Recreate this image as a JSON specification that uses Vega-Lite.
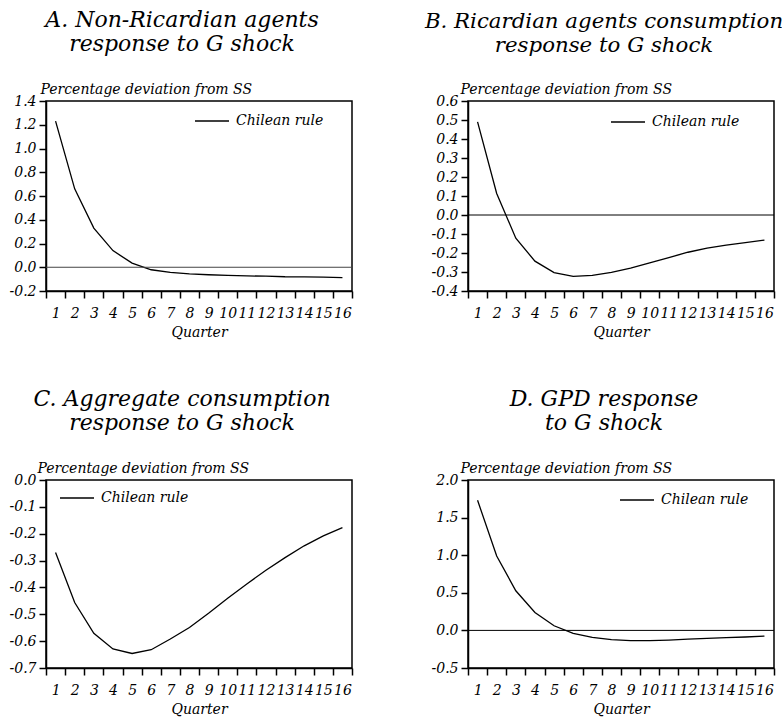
{
  "$schema": "https://vega.github.io/schema/vega-lite/v6.json",
  "background": "white",
  "padding": {"left": 8, "top": 8, "right": 0, "bottom": 0},
  "columns": 2,
  "spacing": {"row": 47, "column": 61},
  "resolve": {"scale": {"x": "independent", "y": "independent", "color": "independent"}, "legend": {"color": "independent"}, "axis": {"x": "independent", "y": "independent"}},
  "config": {
    "font": "DejaVu Serif",
    "view": {"stroke": "black", "strokeWidth": 1.5},
    "axis": {"labelFont": "DejaVu Serif", "labelFontStyle": "italic", "labelFontSize": 14, "labelColor": "black", "titleFont": "DejaVu Serif", "titleFontStyle": "italic", "titleFontWeight": "normal", "titleFontSize": 14, "titleColor": "black", "domainColor": "black", "domainWidth": 1.5, "tickColor": "black", "tickWidth": 1.5, "grid": false, "labelOverlap": false, "labelFlush": false},
    "title": {"font": "DejaVu Serif", "fontStyle": "italic", "fontWeight": "normal", "fontSize": 22, "color": "black", "anchor": "middle", "frame": "group", "dx": -17, "lineHeight": 24, "offset": 26},
    "legend": {"labelFont": "DejaVu Serif", "labelFontStyle": "italic", "labelFontSize": 14, "labelColor": "black", "symbolType": "stroke", "symbolSize": 1156, "symbolStrokeWidth": 1.3, "symbolStrokeColor": "black", "labelOffset": 6, "padding": 0, "title": null}
  },
  "concat": [
    {
      "title": {"text": ["A. Non-Ricardian agents", "response to G shock"]},
      "width": 306, "height": 190,
      "data": {"values": [
        {"quarter": 1, "value": 1.23}, {"quarter": 2, "value": 0.66}, {"quarter": 3, "value": 0.33}, {"quarter": 4, "value": 0.14},
        {"quarter": 5, "value": 0.035}, {"quarter": 6, "value": -0.021}, {"quarter": 7, "value": -0.044}, {"quarter": 8, "value": -0.056},
        {"quarter": 9, "value": -0.063}, {"quarter": 10, "value": -0.068}, {"quarter": 11, "value": -0.073}, {"quarter": 12, "value": -0.075},
        {"quarter": 13, "value": -0.08}, {"quarter": 14, "value": -0.081}, {"quarter": 15, "value": -0.083}, {"quarter": 16, "value": -0.088}
      ]},
      "layer": [
        {"mark": {"type": "line", "color": "black", "strokeWidth": 1.3},
         "encoding": {
           "x": {"field": "quarter", "type": "quantitative", "scale": {"domain": [0.5, 16.5], "nice": false, "zero": false},
                 "axis": {"title": "Quarter", "values": [0.5,1.5,2.5,3.5,4.5,5.5,6.5,7.5,8.5,9.5,10.5,11.5,12.5,13.5,14.5,15.5,16.5], "labelExpr": "datum.value < 16 ? format(datum.value + 0.5, 'd') : ''", "labelOffset": 9.6, "tickSize": 7, "labelPadding": 8, "titlePadding": 5}},
           "y": {"field": "value", "type": "quantitative", "scale": {"domain": [-0.2, 1.4], "nice": false, "zero": false},
                 "axis": {"title": "Percentage deviation from SS", "values": [-0.2,0,0.2,0.4,0.6,0.8,1.0,1.2,1.4], "labelExpr": "replace(format(datum.value, '.1f'), '\u2212', '-')", "tickSize": 7, "labelPadding": 3, "titleAngle": 0, "titleAlign": "left", "titleBaseline": "alphabetic", "titleX": -6, "titleY": -8}},
           "color": {"datum": "Chilean rule", "scale": {"range": ["black"]}, "legend": {"orient": "none", "legendX": 148, "legendY": 2}}
         }},
        {"data": {"values": [{}]}, "mark": {"type": "rule", "color": "#444", "strokeWidth": 1},
         "encoding": {"y": {"datum": 0, "type": "quantitative",
           "axis": {"title": "Percentage deviation from SS", "values": [-0.2,0,0.2,0.4,0.6,0.8,1.0,1.2,1.4], "labelExpr": "replace(format(datum.value, '.1f'), '\u2212', '-')", "tickSize": 7, "labelPadding": 3, "titleAngle": 0, "titleAlign": "left", "titleBaseline": "alphabetic", "titleX": -6, "titleY": -8}}}}
      ]
    },
    {
      "title": {"text": ["B. Ricardian agents consumption", "response to G shock"], "fontSize": 21.3},
      "width": 306, "height": 190,
      "data": {"values": [
        {"quarter": 1, "value": 0.49}, {"quarter": 2, "value": 0.113}, {"quarter": 3, "value": -0.122}, {"quarter": 4, "value": -0.243},
        {"quarter": 5, "value": -0.303}, {"quarter": 6, "value": -0.323}, {"quarter": 7, "value": -0.318}, {"quarter": 8, "value": -0.302},
        {"quarter": 9, "value": -0.279}, {"quarter": 10, "value": -0.252}, {"quarter": 11, "value": -0.224}, {"quarter": 12, "value": -0.196},
        {"quarter": 13, "value": -0.174}, {"quarter": 14, "value": -0.159}, {"quarter": 15, "value": -0.145}, {"quarter": 16, "value": -0.132}
      ]},
      "layer": [
        {"mark": {"type": "line", "color": "black", "strokeWidth": 1.3},
         "encoding": {
           "x": {"field": "quarter", "type": "quantitative", "scale": {"domain": [0.5, 16.5], "nice": false, "zero": false},
                 "axis": {"title": "Quarter", "values": [0.5,1.5,2.5,3.5,4.5,5.5,6.5,7.5,8.5,9.5,10.5,11.5,12.5,13.5,14.5,15.5,16.5], "labelExpr": "datum.value < 16 ? format(datum.value + 0.5, 'd') : ''", "labelOffset": 9.6, "tickSize": 7, "labelPadding": 8, "titlePadding": 5}},
           "y": {"field": "value", "type": "quantitative", "scale": {"domain": [-0.4, 0.6], "nice": false, "zero": false},
                 "axis": {"title": "Percentage deviation from SS", "values": [-0.4,-0.3,-0.2,-0.1,0,0.1,0.2,0.3,0.4,0.5,0.6], "labelExpr": "replace(format(datum.value, '.1f'), '\u2212', '-')", "tickSize": 7, "labelPadding": 3, "titleAngle": 0, "titleAlign": "left", "titleBaseline": "alphabetic", "titleX": -8, "titleY": -8}},
           "color": {"datum": "Chilean rule", "scale": {"range": ["black"]}, "legend": {"orient": "none", "legendX": 142, "legendY": 3}}
         }},
        {"data": {"values": [{}]}, "mark": {"type": "rule", "color": "black", "strokeWidth": 1},
         "encoding": {"y": {"datum": 0, "type": "quantitative",
           "axis": {"title": "Percentage deviation from SS", "values": [-0.4,-0.3,-0.2,-0.1,0,0.1,0.2,0.3,0.4,0.5,0.6], "labelExpr": "replace(format(datum.value, '.1f'), '\u2212', '-')", "tickSize": 7, "labelPadding": 3, "titleAngle": 0, "titleAlign": "left", "titleBaseline": "alphabetic", "titleX": -8, "titleY": -8}}}}
      ]
    },
    {
      "title": {"text": ["C. Aggregate consumption", "response to G shock"]},
      "width": 306, "height": 188,
      "data": {"values": [
        {"quarter": 1, "value": -0.27}, {"quarter": 2, "value": -0.456}, {"quarter": 3, "value": -0.571}, {"quarter": 4, "value": -0.629},
        {"quarter": 5, "value": -0.646}, {"quarter": 6, "value": -0.632}, {"quarter": 7, "value": -0.592}, {"quarter": 8, "value": -0.549},
        {"quarter": 9, "value": -0.496}, {"quarter": 10, "value": -0.44}, {"quarter": 11, "value": -0.387}, {"quarter": 12, "value": -0.336},
        {"quarter": 13, "value": -0.289}, {"quarter": 14, "value": -0.245}, {"quarter": 15, "value": -0.208}, {"quarter": 16, "value": -0.177}
      ]},
      "layer": [
        {"mark": {"type": "line", "color": "black", "strokeWidth": 1.3},
         "encoding": {
           "x": {"field": "quarter", "type": "quantitative", "scale": {"domain": [0.5, 16.5], "nice": false, "zero": false},
                 "axis": {"title": "Quarter", "values": [0.5,1.5,2.5,3.5,4.5,5.5,6.5,7.5,8.5,9.5,10.5,11.5,12.5,13.5,14.5,15.5,16.5], "labelExpr": "datum.value < 16 ? format(datum.value + 0.5, 'd') : ''", "labelOffset": 9.6, "tickSize": 7, "labelPadding": 8, "titlePadding": 5}},
           "y": {"field": "value", "type": "quantitative", "scale": {"domain": [-0.7, 0], "nice": false, "zero": false},
                 "axis": {"title": "Percentage deviation from SS", "values": [-0.7,-0.6,-0.5,-0.4,-0.3,-0.2,-0.1,0], "labelExpr": "replace(format(datum.value, '.1f'), '\u2212', '-')", "tickSize": 7, "labelPadding": 3, "titleAngle": 0, "titleAlign": "left", "titleBaseline": "alphabetic", "titleX": -9, "titleY": -8}},
           "color": {"datum": "Chilean rule", "scale": {"range": ["black"]}, "legend": {"orient": "none", "legendX": 13, "legendY": 0}}
         }}
      ]
    },
    {
      "title": {"text": ["D. GPD response", "to G shock"]},
      "width": 306, "height": 188,
      "data": {"values": [
        {"quarter": 1, "value": 1.73}, {"quarter": 2, "value": 0.99}, {"quarter": 3, "value": 0.527}, {"quarter": 4, "value": 0.239},
        {"quarter": 5, "value": 0.062}, {"quarter": 6, "value": -0.04}, {"quarter": 7, "value": -0.093}, {"quarter": 8, "value": -0.124},
        {"quarter": 9, "value": -0.137}, {"quarter": 10, "value": -0.137}, {"quarter": 11, "value": -0.128}, {"quarter": 12, "value": -0.115},
        {"quarter": 13, "value": -0.106}, {"quarter": 14, "value": -0.097}, {"quarter": 15, "value": -0.088}, {"quarter": 16, "value": -0.075}
      ]},
      "layer": [
        {"mark": {"type": "line", "color": "black", "strokeWidth": 1.3},
         "encoding": {
           "x": {"field": "quarter", "type": "quantitative", "scale": {"domain": [0.5, 16.5], "nice": false, "zero": false},
                 "axis": {"title": "Quarter", "values": [0.5,1.5,2.5,3.5,4.5,5.5,6.5,7.5,8.5,9.5,10.5,11.5,12.5,13.5,14.5,15.5,16.5], "labelExpr": "datum.value < 16 ? format(datum.value + 0.5, 'd') : ''", "labelOffset": 9.6, "tickSize": 7, "labelPadding": 8, "titlePadding": 5}},
           "y": {"field": "value", "type": "quantitative", "scale": {"domain": [-0.5, 2.0], "nice": false, "zero": false},
                 "axis": {"title": "Percentage deviation from SS", "values": [-0.5,0,0.5,1.0,1.5,2.0], "labelExpr": "replace(format(datum.value, '.1f'), '\u2212', '-')", "tickSize": 7, "labelPadding": 3, "titleAngle": 0, "titleAlign": "left", "titleBaseline": "alphabetic", "titleX": -8, "titleY": -8}},
           "color": {"datum": "Chilean rule", "scale": {"range": ["black"]}, "legend": {"orient": "none", "legendX": 151, "legendY": 2}}
         }},
        {"data": {"values": [{}]}, "mark": {"type": "rule", "color": "black", "strokeWidth": 1},
         "encoding": {"y": {"datum": 0, "type": "quantitative",
           "axis": {"title": "Percentage deviation from SS", "values": [-0.5,0,0.5,1.0,1.5,2.0], "labelExpr": "replace(format(datum.value, '.1f'), '\u2212', '-')", "tickSize": 7, "labelPadding": 3, "titleAngle": 0, "titleAlign": "left", "titleBaseline": "alphabetic", "titleX": -8, "titleY": -8}}}}
      ]
    }
  ]
}
